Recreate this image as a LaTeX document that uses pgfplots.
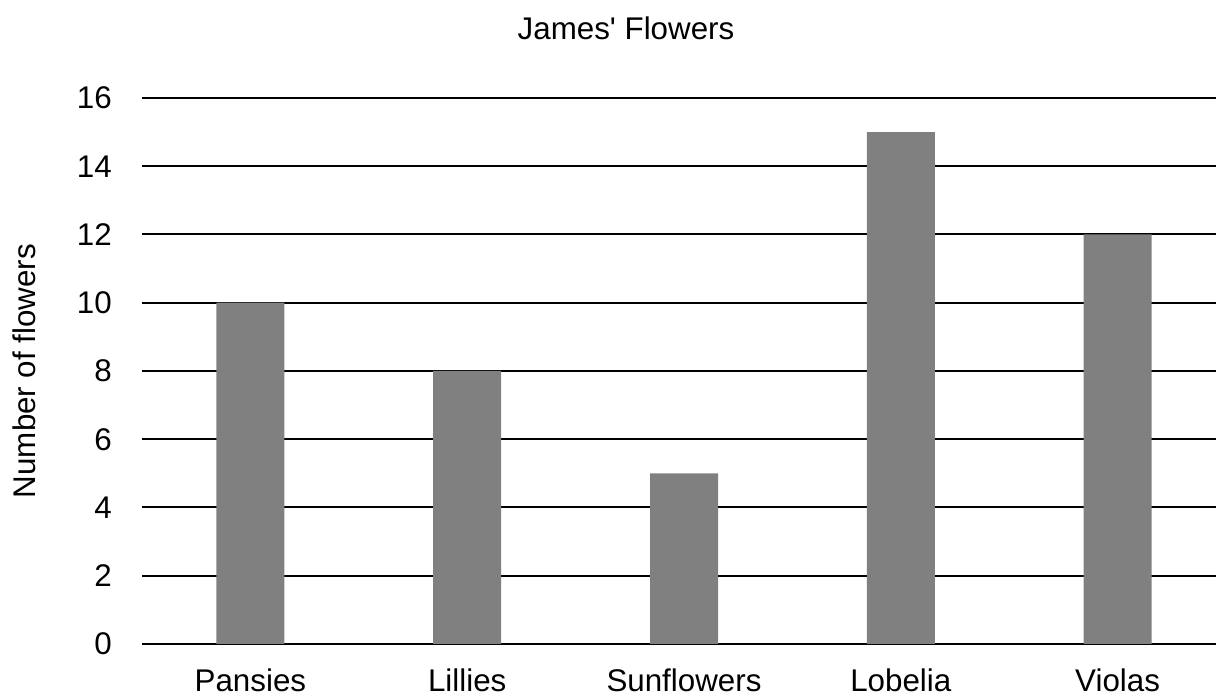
\documentclass[border=0pt]{standalone}
\usepackage{pgfplots}
\pgfplotsset{compat=1.18}
\usepackage{fontspec}
\setmainfont{Liberation Sans}[Ligatures=TeXOff]
\definecolor{bargray}{RGB}{128,128,128}
\newcommand{\chartfont}{\fontsize{23.5}{27}\selectfont}
\begin{document}
\begin{tikzpicture}
\begin{axis}[
  name=ax,
  width=813pt, height=409.5pt,
  scale only axis,
  ybar,
  bar width=51pt,
  xmin=-0.5, xmax=4.5,
  ymin=0, ymax=16,
  ytick={0,2,...,16},
  xtick=data,
  xticklabels={Pansies,Lillies,Sunflowers,Lobelia,Violas},
  axis line style={draw=none},
  major tick style={draw=none},
  ymajorgrids,
  grid style={black, line width=1.5pt},
  /pgf/number format/assume math mode=true,
  tick label style={font=\chartfont, inner sep=0pt},
  yticklabel style={anchor=east, xshift=-22.5pt},
  xticklabel style={anchor=base, yshift=-31.5pt},
  title={James' Flowers},
  title style={font=\chartfont, at={(rel axis cs:0.5,1)}, anchor=center, yshift=46pt, xshift=-43.5pt},
  ylabel={Number of flowers},
  ylabel style={font=\chartfont, at={(rel axis cs:0,0.5)}, anchor=center, yshift=88.5pt},
]
\addplot[draw=none, fill=bargray] coordinates {
  (0,10)
  (1,8)
  (2,5)
  (3,15)
  (4,12)
};
\end{axis}
\pgfresetboundingbox
\path[use as bounding box] ([xshift=-106.5pt,yshift=-38.25pt]ax.south west) rectangle ([xshift=-7.5pt,yshift=73.5pt]ax.north east);
\end{tikzpicture}
\end{document}
